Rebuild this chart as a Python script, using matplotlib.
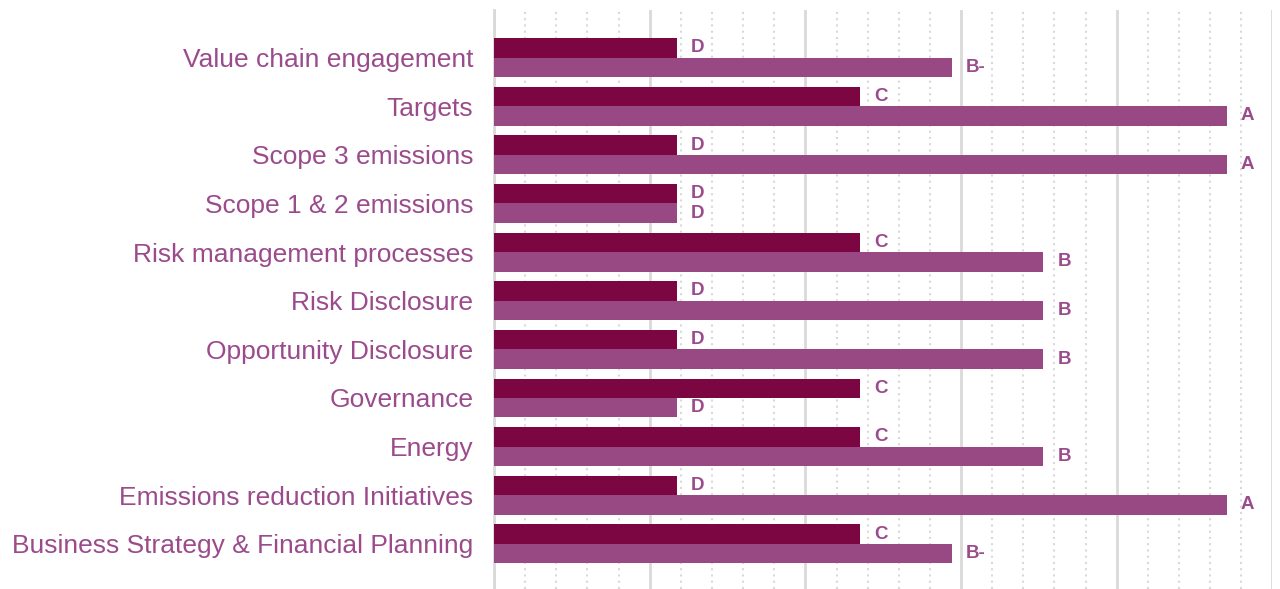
import matplotlib.pyplot as plt
import numpy as np

# Categories (top to bottom) and grades per series
categories = ['Value chain engagement', 'Targets', 'Scope 3 emissions',
              'Scope 1 & 2 emissions', 'Risk management processes',
              'Risk Disclosure', 'Opportunity Disclosure', 'Governance',
              'Energy', 'Emissions reduction Initiatives',
              'Business Strategy & Financial Planning']
grades_prev = ['D', 'C', 'D', 'D', 'C', 'D', 'D', 'C', 'C', 'D', 'C']
grades_curr = ['B-', 'A', 'A', 'D', 'B', 'B', 'B', 'D', 'B', 'A', 'B-']
grade_scores = {'D': 2, 'C': 4, 'B-': 5, 'B': 6, 'A': 8}

dark = '#7B0641'
light = '#984882'
text_col = '#9B4B8C'
grid_col = '#D9D9D9'

plt.rcParams['font.family'] = ['Liberation Sans', 'DejaVu Sans']

fig = plt.figure(figsize=(12.8, 5.89), dpi=100)
ax = fig.add_axes([0.386, 0.0, 0.608, 0.983])

y = np.arange(len(categories))
h = 0.4
v_prev = [grade_scores[g] for g in grades_prev]
v_curr = [grade_scores[g] for g in grades_curr]

ax.barh(y - h / 2, v_prev, height=h, color=dark, zorder=3)
ax.barh(y + h / 2, v_curr, height=h, color=light, zorder=3)

for yi, v, g in zip(y - h / 2, v_prev, grades_prev):
    ax.annotate(g, (v, yi), xytext=(10, 0), textcoords='offset points',
                va='center', ha='left', fontsize=13.5, fontweight='bold',
                color=text_col)
for yi, v, g in zip(y + h / 2, v_curr, grades_curr):
    ax.annotate(g, (v, yi), xytext=(10, 0), textcoords='offset points',
                va='center', ha='left', fontsize=13.5, fontweight='bold',
                color=text_col)

ax.set_xlim(0, 8.5)
ax.set_ylim(10.93, -0.98)
ax.set_xticks(np.linspace(0, 8.5, 6))
ax.set_xticks(np.linspace(0, 8.5, 26), minor=True)
ax.grid(axis='x', which='major', color=grid_col, linewidth=2, zorder=0)
ax.grid(axis='x', which='minor', color=grid_col, linewidth=1.5,
        linestyle=(0, (1, 2)), zorder=0)
ax.tick_params(axis='x', which='both', length=0, labelbottom=False)

ax.set_yticks(y)
ax.set_yticklabels(categories, fontsize=19, color=text_col)
ax.tick_params(axis='y', length=0, pad=15)

for s in ['top', 'right', 'bottom']:
    ax.spines[s].set_visible(False)
ax.spines['left'].set_color(grid_col)
ax.spines['left'].set_linewidth(2)

plt.savefig('out.png', dpi=100)
